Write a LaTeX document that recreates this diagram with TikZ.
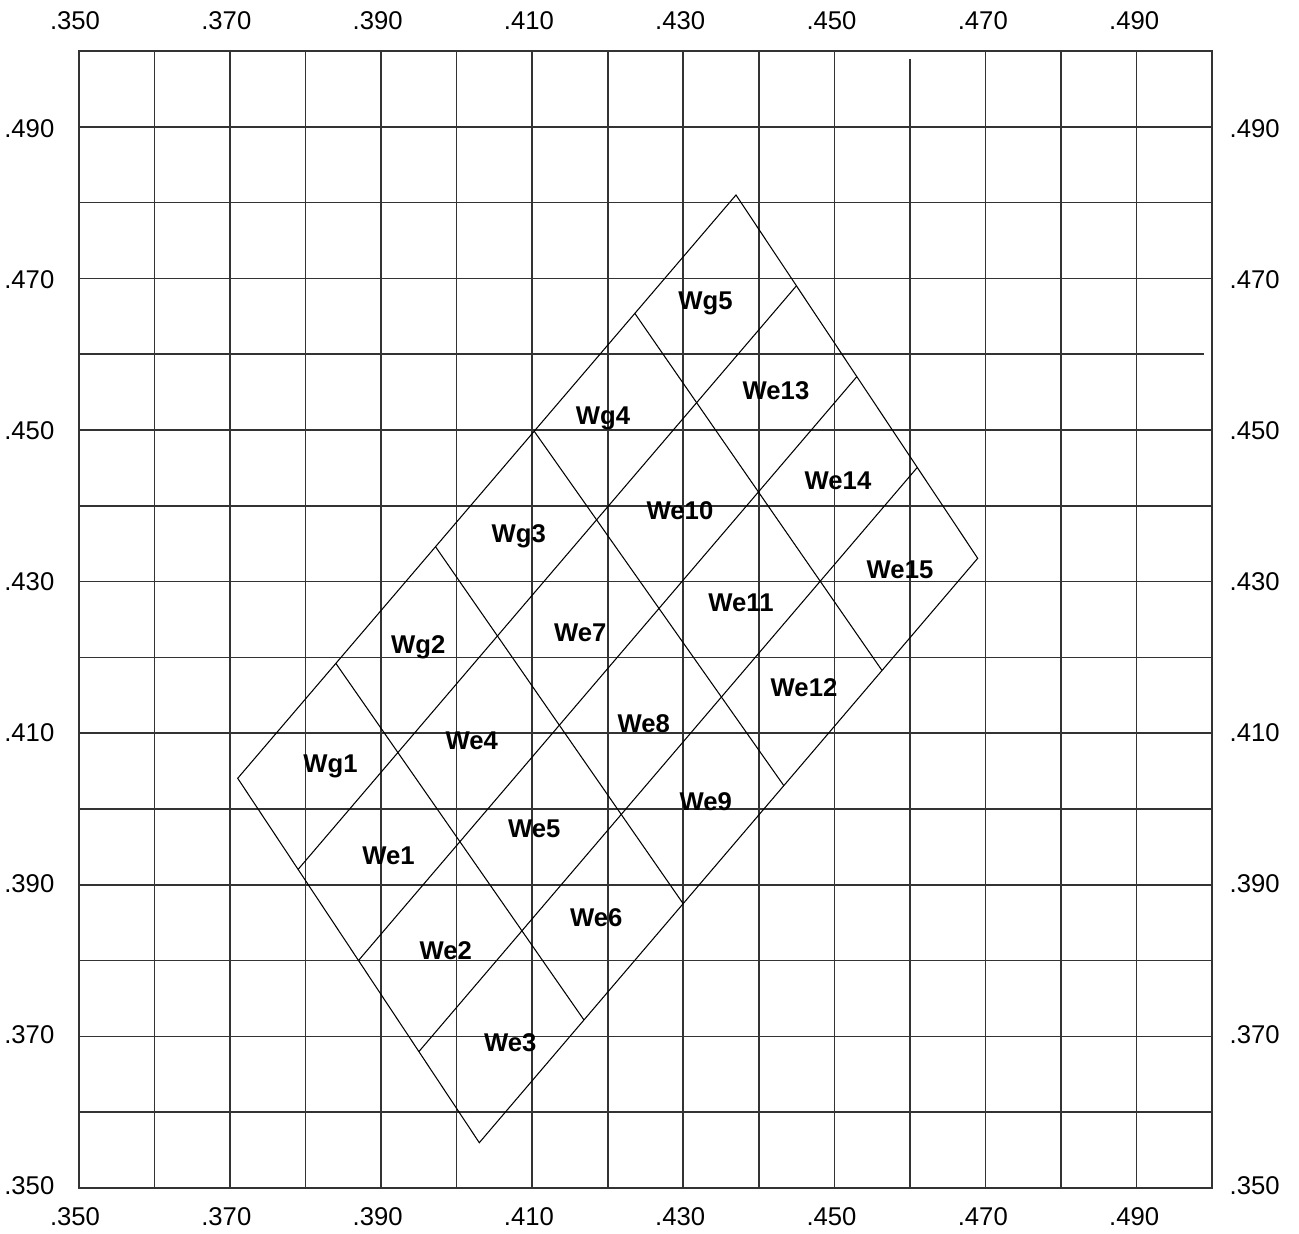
\documentclass[tikz,border=0pt]{standalone}
\usepackage{fontspec}
\setmainfont{Liberation Sans}
\usetikzlibrary{calc}
\begin{document}
\begin{tikzpicture}[x=0.01cm,y=-0.01cm,
  gridline/.style={line width=0.45pt, draw=black!80},
  plate/.style={line width=0.3pt, draw=black, line join=miter},
  axislab/.style={font=\fontsize{7.3}{8}\selectfont, inner sep=0pt},
  cell/.style={font=\fontsize{7.3}{8}\selectfont\bfseries, inner sep=0pt, anchor=base}]
\useasboundingbox[fill=white] (0,0) rectangle (1299,1234);
% grid
\foreach \k in {1,...,14}{
  \pgfmathsetmacro{\gx}{79+75.53*\k}
  \pgfmathsetmacro{\gtop}{ifthenelse(\k==11,59,51)}
  \draw[gridline] (\gx,\gtop) -- (\gx,1188);
}
\foreach \k in {1,...,14}{
  \pgfmathsetmacro{\gy}{51+75.8*\k}
  \pgfmathsetmacro{\gr}{ifthenelse(\k==4,1204,1212)}
  \draw[gridline] (79,\gy) -- (\gr,\gy);
}
\draw[gridline] (79,51) rectangle (1212,1188);
% axis labels
\foreach \v [count=\i from 0] in {350,370,...,490}{
  \node[axislab, anchor=base] (top\i) at ({75+151.3*\i},30) {.\v};
  \node[axislab, anchor=base] (bot\i) at ({75+151.3*\i},1226) {.\v};
}
\foreach \v [count=\i from 0] in {490,470,...,350}{
  \node[axislab, anchor=base east] (left\i) at (55,{138+150.93*\i}) {.\v};
  \node[axislab, anchor=base west] (right\i) at (1229,{138+150.93*\i}) {.\v};
}
% parallelogram of cells
\coordinate (L) at (237.7,778.3);
\coordinate (T) at (736,195);
\coordinate (R) at (977.7,558.3);
\coordinate (B) at (479.3,1142.7);
\draw[plate] (L) -- (T) -- (R) -- (B) -- cycle;
\foreach \a/\b in {0.197/0.21, 0.397/0.409, 0.595/0.611, 0.797/0.808}
  \draw[plate] ($(L)!\a!(T)$) -- ($(B)!\b!(R)$);
\foreach \k in {1,2,3}
  \draw[plate] ($(L)!\k/4!(B)$) -- ($(T)!\k/4!(R)$);
% cell labels
\node[cell] (wg1) at (330.5,772.7) {Wg1};
\node[cell] (wg2) at (418.3,653.3) {Wg2};
\node[cell] (wg3) at (518.7,542.7) {Wg3};
\node[cell] (wg4) at (603,425) {Wg4};
\node[cell] (wg5) at (705.5,310) {Wg5};
\node[cell] (we1) at (388.5,865) {We1};
\node[cell] (we2) at (445.8,959.3) {We2};
\node[cell] (we3) at (510.3,1051.7) {We3};
\node[cell] (we4) at (471.8,750) {We4};
\node[cell] (we5) at (534.2,837.7) {We5};
\node[cell] (we6) at (596.3,926.7) {We6};
\node[cell] (we7) at (580.3,641.7) {We7};
\node[cell] (we8) at (643.7,732.7) {We8};
\node[cell] (we9) at (705.8,810.7) {We9};
\node[cell] (we10) at (680,520) {We10};
\node[cell] (we11) at (741,611.7) {We11};
\node[cell] (we12) at (804,696.7) {We12};
\node[cell] (we13) at (776,399.3) {We13};
\node[cell] (we14) at (838,490) {We14};
\node[cell] (we15) at (900,578.7) {We15};
\end{tikzpicture}
\end{document}
